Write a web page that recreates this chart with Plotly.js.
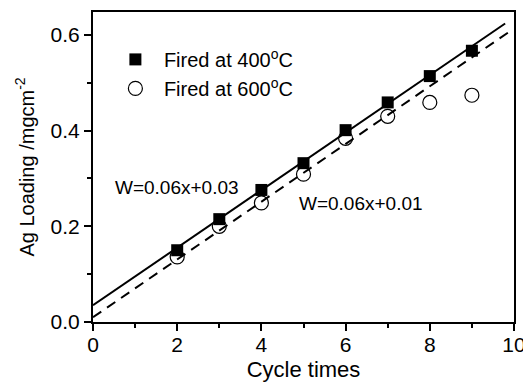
<!DOCTYPE html>
<html>
<head>
<meta charset="utf-8">
<script src="https://cdn.plot.ly/plotly-3.0.1.min.js"></script>
<style>html,body{margin:0;padding:0;background:#fff;}#chart{width:523px;height:382px;}</style>
</head>
<body>
<div id="chart"></div>
<script>
// Data
const cycles = [2, 3, 4, 5, 6, 7, 8, 9];
const loading400 = [0.150, 0.215, 0.276, 0.332, 0.401, 0.459, 0.514, 0.567];
const loading600 = [0.136, 0.200, 0.249, 0.309, 0.384, 0.430, 0.459, 0.474];
const fit400X = [0, 9.79];
const fit400Y = [0.035, 0.624];
const fit600X = [0, 9.86];
const fit600Y = [0.010, 0.605];
const seriesNames = ['Fired at 400<sup>o</sup>C', 'Fired at 600<sup>o</sup>C'];
const fitLabels = ['W=0.06x+0.03', 'W=0.06x+0.01'];
const xTicks = [0, 2, 4, 6, 8, 10];
const yTicks = [0.0, 0.2, 0.4, 0.6];

const FONT = 'Liberation Sans, Arial, sans-serif';

const traces = [
  {x: fit400X, y: fit400Y, mode: 'lines', line: {color: '#000', width: 2}, showlegend: false, hoverinfo: 'skip'},
  {x: fit600X, y: fit600Y, mode: 'lines', line: {color: '#000', width: 2, dash: '10px,7px'}, showlegend: false, hoverinfo: 'skip'},
  {x: cycles, y: loading400, mode: 'markers', name: seriesNames[0], legendgroup: 'a',
   marker: {symbol: 'square', size: 12, color: '#000'}},
  {x: cycles, y: loading600, mode: 'markers', name: seriesNames[1], legendgroup: 'b',
   marker: {symbol: 'circle-open', size: 14, color: '#000', line: {width: 1.2, color: '#000'}}}
];

const axisCommon = {
  showgrid: false, zeroline: false, showline: true, linecolor: '#000', linewidth: 2,
  mirror: true, ticks: 'outside', ticklen: 7, tickwidth: 2, tickcolor: '#000',
  ticklabeloverflow: 'allow',
  tickfont: {family: FONT, size: 21, color: '#000'}
};

const layout = {
  width: 523, height: 382,
  margin: {l: 93, r: 9, t: 12, b: 60},
  paper_bgcolor: '#fff', plot_bgcolor: '#fff',
  font: {family: FONT, size: 20, color: '#000'},
  xaxis: Object.assign({}, axisCommon, {
    range: [0, 10], tickvals: xTicks, ticktext: xTicks.map(String),
    ticklabelstandoff: -4,
    minor: {ticks: 'outside', ticklen: 4, tickwidth: 2, tickcolor: '#000', dtick: 1, tick0: 0, showgrid: false},
    title: {text: 'Cycle times', font: {family: FONT, size: 22, color: '#000'}, standoff: 6}
  }),
  yaxis: Object.assign({}, axisCommon, {
    range: [0, 0.648], tickvals: yTicks, ticktext: yTicks.map(v => v.toFixed(1)),
    minor: {ticks: 'outside', ticklen: 4, tickwidth: 2, tickcolor: '#000', dtick: 0.1, tick0: 0, showgrid: false},
    title: {text: 'Ag Loading /mgcm<sup>-2</sup>', font: {family: FONT, size: 20, color: '#000'}, standoff: 11}
  }),
  legend: {x: 0.033, y: 0.91, xanchor: 'left', yanchor: 'top', bgcolor: 'rgba(0,0,0,0)',
           itemwidth: 47,
           font: {family: FONT, size: 20, color: '#000'}, tracegroupgap: 0, traceorder: 'grouped'},
  showlegend: true,
  annotations: [
    {x: 113, y: 187, xref: 'paper', yref: 'paper', text: fitLabels[0], showarrow: false,
     xanchor: 'left', font: {family: FONT, size: 19, color: '#000'}},
    {x: 297, y: 203, xref: 'paper', yref: 'paper', text: fitLabels[1], showarrow: false,
     xanchor: 'left', font: {family: FONT, size: 19, color: '#000'}}
  ]
};
// convert annotation pixel anchors (measured in the picture) into paper fractions
const pw = 523 - 93 - 9, ph = 382 - 12 - 60;
layout.annotations.forEach(a => { a.x = (a.x - 93) / pw; a.y = 1 - (a.y - 12) / ph; });

Plotly.newPlot('chart', traces, layout, {displayModeBar: false, staticPlot: true});
</script>
</body>
</html>
